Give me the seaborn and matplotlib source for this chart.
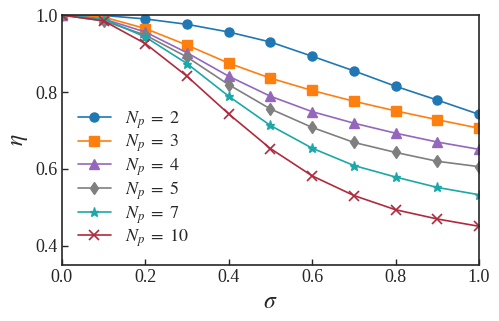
import matplotlib
matplotlib.use("Agg")
import matplotlib.pyplot as plt
import seaborn as sns

sigma = [0.0, 0.1, 0.2, 0.3, 0.4, 0.5, 0.6, 0.7, 0.8, 0.9, 1.0]
eta_2 = [1.0, 0.999, 0.990, 0.976, 0.956, 0.930, 0.893, 0.855, 0.815, 0.779, 0.742]
eta_3 = [1.0, 0.995, 0.965, 0.922, 0.875, 0.836, 0.804, 0.776, 0.751, 0.728, 0.706]
eta_4 = [1.0, 0.990, 0.956, 0.902, 0.841, 0.789, 0.749, 0.719, 0.693, 0.670, 0.651]
eta_5 = [1.0, 0.985, 0.948, 0.891, 0.819, 0.756, 0.708, 0.669, 0.643, 0.620, 0.606]
eta_7 = [1.0, 0.990, 0.943, 0.874, 0.789, 0.713, 0.654, 0.609, 0.579, 0.552, 0.533]
eta_10 = [1.0, 0.985, 0.926, 0.841, 0.743, 0.653, 0.582, 0.531, 0.494, 0.470, 0.451]

n_values = [2, 3, 4, 5, 7, 10]
series = [eta_2, eta_3, eta_4, eta_5, eta_7, eta_10]
colors = ["#1f77b4", "#ff7f0e", "#9467bd", "#7f7f7f", "#1aa8a8", "#b02a3c"]
markers = ["o", "s", "^", "d", "*", "x"]

sns.set_style("ticks")
plt.rcParams.update({
    "font.family": "serif",
    "font.serif": ["Liberation Serif", "DejaVu Serif"],
    "mathtext.fontset": "stix",
})

fig = plt.figure(figsize=(4.99, 3.21), dpi=100)
ax = fig.add_axes([0.124, 0.174, 0.836, 0.779])

for n, vals, c, m in zip(n_values, series, colors, markers):
    sns.lineplot(x=sigma, y=vals, color=c, marker=m, markersize=6.5,
                 markeredgewidth=1.0 if m != "x" else 1.2, markeredgecolor=c,
                 linewidth=1.2, label=rf"$N_p\;=\;{n}$", ax=ax)

ax.set_xlim(0, 1.0)
ax.set_ylim(0.35, 1.0)
ax.set_xticks([0.0, 0.2, 0.4, 0.6, 0.8, 1.0])
ax.set_yticks([0.4, 0.6, 0.8, 1.0])
ax.tick_params(direction="in", labelsize=13, length=4, width=1, pad=3)
for sp in ax.spines.values():
    sp.set_linewidth(1.2)
ax.set_xlabel(r"$\sigma$", fontsize=17)
ax.set_ylabel(r"$\eta$", fontsize=17)

ax.legend(loc="upper left", bbox_to_anchor=(0.0, 0.688), frameon=False,
          fontsize=13, handlelength=1.8, labelspacing=0.1, handletextpad=0.8)

fig.savefig("out.png", dpi=100)
